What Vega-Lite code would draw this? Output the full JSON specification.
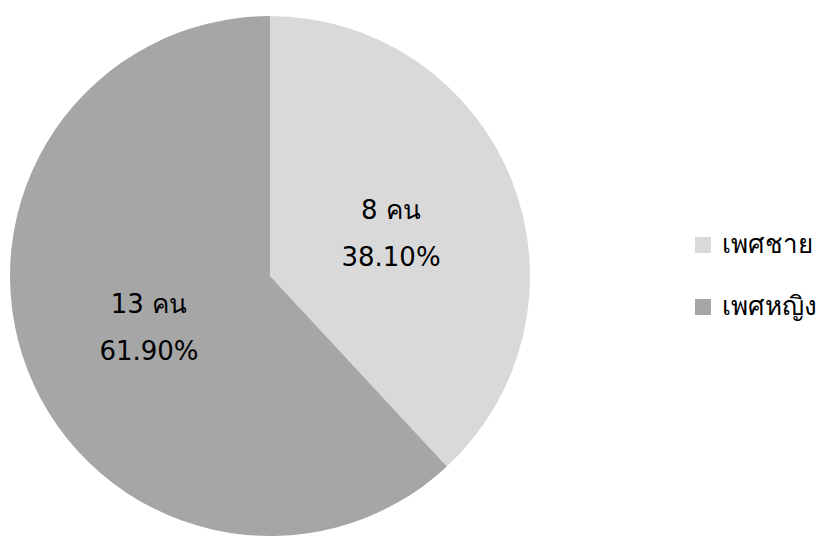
{
  "$schema": "https://vega.github.io/schema/vega-lite/v6.json",
  "width": 540,
  "height": 528,
  "padding": {"top": 12, "left": 0, "right": 0, "bottom": 0},
  "autosize": {"type": "pad"},
  "background": "white",
  "config": {"view": {"stroke": null}, "font": "Tahoma, DejaVu Sans, Noto Sans, sans-serif"},
  "data": {"values": [
    {"sex": "เพศชาย", "n": 8, "order": 1, "count": "8 คน", "pct": "38.10%"},
    {"sex": "เพศหญิง", "n": 13, "order": 2, "count": "13 คน", "pct": "61.90%"}
  ]},
  "encoding": {
    "theta": {"field": "n", "type": "quantitative", "stack": true},
    "order": {"field": "order", "type": "quantitative"}
  },
  "layer": [
    {
      "mark": {"type": "arc", "outerRadius": 260, "stroke": null},
      "encoding": {
        "color": {
          "field": "sex", "type": "nominal",
          "scale": {"domain": ["เพศชาย", "เพศหญิง"], "range": ["#d9d9d9", "#a6a6a6"]},
          "legend": {
            "title": null, "orient": "none", "legendX": 690, "legendY": 220,
            "symbolType": "square", "symbolSize": 256, "symbolStrokeWidth": 0,
            "labelFontSize": 26, "labelColor": "#000000", "labelOffset": 6,
            "rowPadding": 36, "labelLimit": 300, "labelFont": "Tahoma, DejaVu Sans, Noto Sans, sans-serif"
          }
        }
      }
    },
    {
      "mark": {"type": "text", "radius": 130, "fontSize": 26, "dy": -18, "color": "#000000"},
      "encoding": {"text": {"field": "count"}}
    },
    {
      "mark": {"type": "text", "radius": 130, "fontSize": 26, "dy": 29, "color": "#000000"},
      "encoding": {"text": {"field": "pct"}}
    }
  ]
}
